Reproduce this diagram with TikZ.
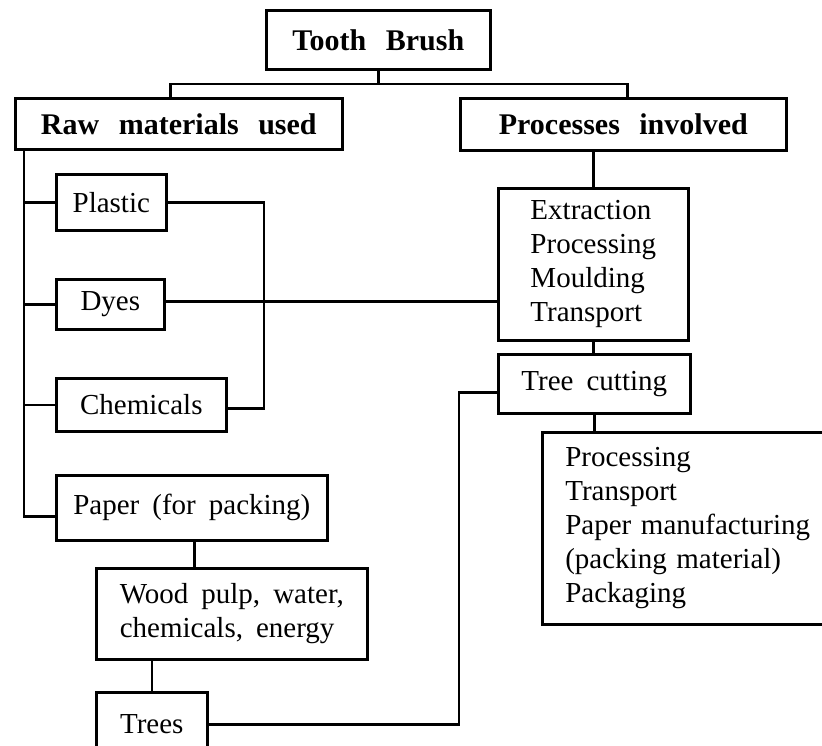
\documentclass[tikz,border=0pt]{standalone}
\usepackage{fontspec}
\setmainfont[WordSpace=1.8]{Liberation Serif}
\newfontfamily\headfont[WordSpace=2.6]{Liberation Serif}
\usetikzlibrary{positioning,calc}

\tikzset{
  box/.style={draw, line width=2.6pt, anchor=north west, align=left, inner xsep=0pt, inner ysep=0pt,
    font=\fontsize{29}{34}\selectfont},
  headbox/.style={box, align=center, font=\headfont\bfseries\fontsize{30}{36}\selectfont},
  link/.style={line width=2.6pt}
}

\begin{document}
\begin{tikzpicture}[x=1pt,y=-1pt]
\useasboundingbox (0,0) rectangle (822,745);
\clip (0,0) rectangle (822,745);

% heads
\node[headbox, minimum width=224, minimum height=59] (tooth) at (265,9) {Tooth Brush};
\node[headbox, minimum width=327, minimum height=51] (raw) at (14,97) {Raw materials used};
\node[headbox, minimum width=326, minimum height=52] (proc) at (459,97) {Processes involved};

% raw materials
\node[box, minimum width=110, minimum height=56] (plastic) at (55,173) {Plastic};
\node[box, minimum width=108, minimum height=50] (dyes) at (55,278) {Dyes};
\node[box, minimum width=170, minimum height=53] (chem) at (55,377) {Chemicals};
\node[box, minimum width=271, minimum height=65] (paper) at (55,474) {Paper (for packing)};
\node[box, minimum width=271, minimum height=91] (wood) at (95,567) {Wood pulp, water,\\chemicals, energy};
\node[box, minimum width=111, minimum height=64] (trees) at (95,691) {Trees};

% processes
\node[box, minimum width=190, minimum height=152] (extr) at (497,187) {Extraction\\Processing\\Moulding\\Transport};
\node[box, minimum width=192, minimum height=59] (tcut) at (497,353) {Tree cutting};
\node[box, inner xsep=23pt, text width=264, minimum height=192] (pack) at (541,431)
  {Processing\\Transport\\Paper manufacturing\\(packing material)\\Packaging};

% connectors
\coordinate (bus) at (375,84);
\coordinate (spine) at (24,148);
\coordinate (join) at (264,300);
\coordinate (turn) at (459,560);

\draw[link] (tooth.south) -- (tooth.south |- bus);
\draw[link] ([xshift=-8.5pt]raw.north) |- (bus) -| ([xshift=4pt]proc.north);
\draw[link] (raw.south -| spine) |- ([yshift=-8.5pt]paper.west);
\foreach \n in {plastic,dyes,chem}
  \draw[link] (\n.west) -- (\n.west -| spine);
\draw[link] (plastic.east) -| (join) |- ([yshift=-3.5pt]chem.east);
\draw[link] ([yshift=3pt]dyes.east) -- ([yshift=3pt]dyes.east -| extr.west);
\draw[link] (extr.north |- proc.south) -- (extr.north);
\draw[link] (extr.south) -- (extr.south |- tcut.north);
\draw[link] (tcut.south) -- (tcut.south |- pack.north);
\draw[link] ([xshift=2.5pt]paper.south) -- ([xshift=2.5pt]paper.south |- wood.north);
\draw[link] (trees.north |- wood.south) -- (trees.north);
\draw[link] (trees.east) -| (turn) |- ([yshift=-8.5pt]tcut.west);
\end{tikzpicture}
\end{document}
